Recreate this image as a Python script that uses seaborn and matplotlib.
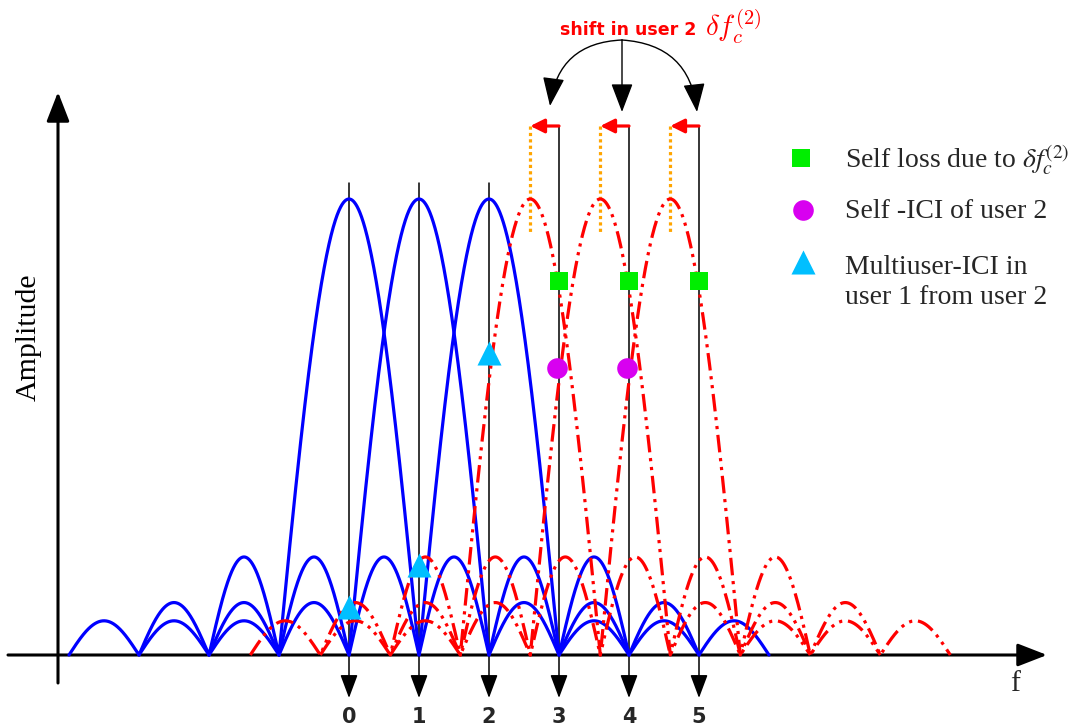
import numpy as np
import pandas as pd
import matplotlib
matplotlib.use("Agg")
import matplotlib.pyplot as plt
import seaborn as sns

# ---------------- data ----------------
user1_centres = [0, 1, 2]                 # subcarriers of user 1 (blue)
user2_nominal = [3, 4, 5]                 # nominal subcarriers of user 2
cfo_shift = 0.41                          # frequency shift of user 2 (in subcarrier spacings)
lobe_heights = [1.0, 0.215, 0.115, 0.075] # main lobe + side lobes of each spectrum
tick_labels = ["0", "1", "2", "3", "4", "5"]

self_loss_f = [3, 4, 5]
self_loss_amp = [0.82, 0.82, 0.82]
self_ici_f = [2.97, 3.97]
self_ici_amp = [0.63, 0.63]
mui_f = [0, 1, 2]
mui_amp = [0.105, 0.197, 0.662]

# ---------------- layout ----------------
W, H = 1086, 728
X0, PXF = 349, 70      # pixel of f=0, pixels per unit f
Y0, PXA = 655, 456     # pixel of amplitude 0, pixels per unit amplitude

def fx(px):
    return (px - X0) / PXF

def ay(py):
    return (Y0 - py) / PXA

sns.set_style("white")
plt.rcParams["font.family"] = ["Liberation Serif", "DejaVu Sans"]

fig = plt.figure(figsize=(W / 100, H / 100), dpi=100)
ax = fig.add_axes([0, 0, 1, 1])
ax.set_xlim(fx(0), fx(W))
ax.set_ylim(ay(H), ay(0))
ax.axis("off")


def spectrum(c, n=1601):
    f = np.linspace(c - 4, c + 4, n)
    u = np.abs(f - c)
    k = np.minimum(np.floor(u).astype(int), len(lobe_heights) - 1)
    h = np.array(lobe_heights)[k]
    amp = np.where(k == 0, np.cos(np.pi * u / 2), h * np.abs(np.sin(np.pi * u)))
    return pd.DataFrame({"f": f, "amp": amp})


BLUE, RED = "#0000ff", "#ff0000"
RED_DASH = (0, (5.5, 1.8, 1.0, 1.8, 1.0, 1.8))

for c in user1_centres:
    d = spectrum(c)
    sns.lineplot(data=d, x="f", y="amp", ax=ax, color=BLUE, lw=2.3,
                 sort=False, estimator=None, zorder=3)

user2_centres = [c - cfo_shift for c in user2_nominal]
for c in user2_centres:
    d = spectrum(c)
    sns.lineplot(data=d, x="f", y="amp", ax=ax, color=RED, lw=2.3,
                 sort=False, estimator=None, linestyle=RED_DASH, zorder=4)

# ---------------- axes arrows ----------------
AX_ARROW = dict(arrowstyle="-|>,head_length=0.9,head_width=0.35",
                mutation_scale=20, lw=2.2, color="black", shrinkA=0, shrinkB=0)
ax.annotate("", xy=(fx(1047), 0), xytext=(fx(8), 0), arrowprops=AX_ARROW, zorder=2)
ax.annotate("", xy=(fx(58), ay(92)), xytext=(fx(58), ay(683)), arrowprops=AX_ARROW, zorder=2)
ax.text(fx(29), ay(337), "Amplitude", rotation=90, ha="center", va="center",
        fontsize=21.5, color="black")
ax.text(fx(1015), ay(684), "f", ha="center", va="center", fontsize=21.5)

# ---------------- subcarrier markers ----------------
top1 = ay(183)
top2 = ay(126)
tip = ay(698)
all_f = user1_centres + user2_nominal
for f, lab in zip(all_f, tick_labels):
    top = top1 if f in user1_centres else top2
    ax.annotate("", xy=(f, tip), xytext=(f, top),
                arrowprops=dict(arrowstyle="-|>,head_length=0.8,head_width=0.3",
                                mutation_scale=18, lw=1.1, color="black",
                                shrinkA=0, shrinkB=0), zorder=1)
    ax.text(f, ay(717), lab, ha="center", va="center", fontsize=15,
            fontweight="bold", family="DejaVu Sans")

# red shift arrows and orange dotted guides
for fn, fc in zip(user2_nominal, user2_centres):
    ax.annotate("", xy=(fc, top2), xytext=(fn, top2),
                arrowprops=dict(arrowstyle="-|>,head_length=0.6,head_width=0.3",
                                mutation_scale=14, lw=2.3, color=RED,
                                shrinkA=0, shrinkB=0), zorder=5)
    ax.plot([fc, fc], [top2, ay(232)], color="#ffa500", lw=2.3,
            linestyle=(0, (1, 1)), zorder=2)

# ---------------- annotation on top ----------------
ax.text(fx(628), ay(30), "shift in user 2", ha="center", va="center",
        fontsize=12.5, fontweight="bold", color=RED, family="DejaVu Sans")
ax.text(fx(705), ay(27), r"$\delta f_c^{(2)}$", ha="left", va="center",
        fontsize=21, color=RED, math_fontfamily="cm")
src = (fx(622), ay(40))
for end, rad in [((fx(550), ay(106)), 0.42), ((fx(622), ay(112)), 0.0),
                 ((fx(697), ay(112)), -0.42)]:
    ax.annotate("", xy=end, xytext=src,
                arrowprops=dict(arrowstyle="-|>,head_length=1.0,head_width=0.38",
                                mutation_scale=18, lw=1.0, color="black",
                                connectionstyle=f"arc3,rad={rad}",
                                shrinkA=0, shrinkB=0), zorder=5)

# ---------------- data markers ----------------
sns.scatterplot(x=self_loss_f, y=self_loss_amp, ax=ax, marker="s", s=180,
                color="#00ee00", linewidth=0, zorder=6)
sns.scatterplot(x=self_ici_f, y=self_ici_amp, ax=ax, marker="o", s=220,
                color="#d800f0", linewidth=0, zorder=6)
sns.scatterplot(x=mui_f, y=mui_amp, ax=ax, marker="^", s=300,
                color="#00bfff", linewidth=0, zorder=6)

# ---------------- legend (hand placed) ----------------
lx, tx = fx(801), fx(845)
sns.scatterplot(x=[lx], y=[ay(158)], ax=ax, marker="s", s=180,
                color="#00ee00", linewidth=0, zorder=6)
sns.scatterplot(x=[lx + 0.03], y=[ay(210)], ax=ax, marker="o", s=220,
                color="#d800f0", linewidth=0, zorder=6)
sns.scatterplot(x=[lx + 0.03], y=[ay(262)], ax=ax, marker="^", s=300,
                color="#00bfff", linewidth=0, zorder=6)
ax.text(tx, ay(160), r"Self loss due to $\delta f_c^{(2)}$", ha="left",
        va="center", fontsize=20, math_fontfamily="stix")
ax.text(tx, ay(212), "Self -ICI of user 2", ha="left", va="center", fontsize=20)
ax.text(tx, ay(268), "Multiuser-ICI in", ha="left", va="center", fontsize=20)
ax.text(tx, ay(298), "user 1 from user 2", ha="left", va="center", fontsize=20)

fig.savefig("out.png", dpi=100)
